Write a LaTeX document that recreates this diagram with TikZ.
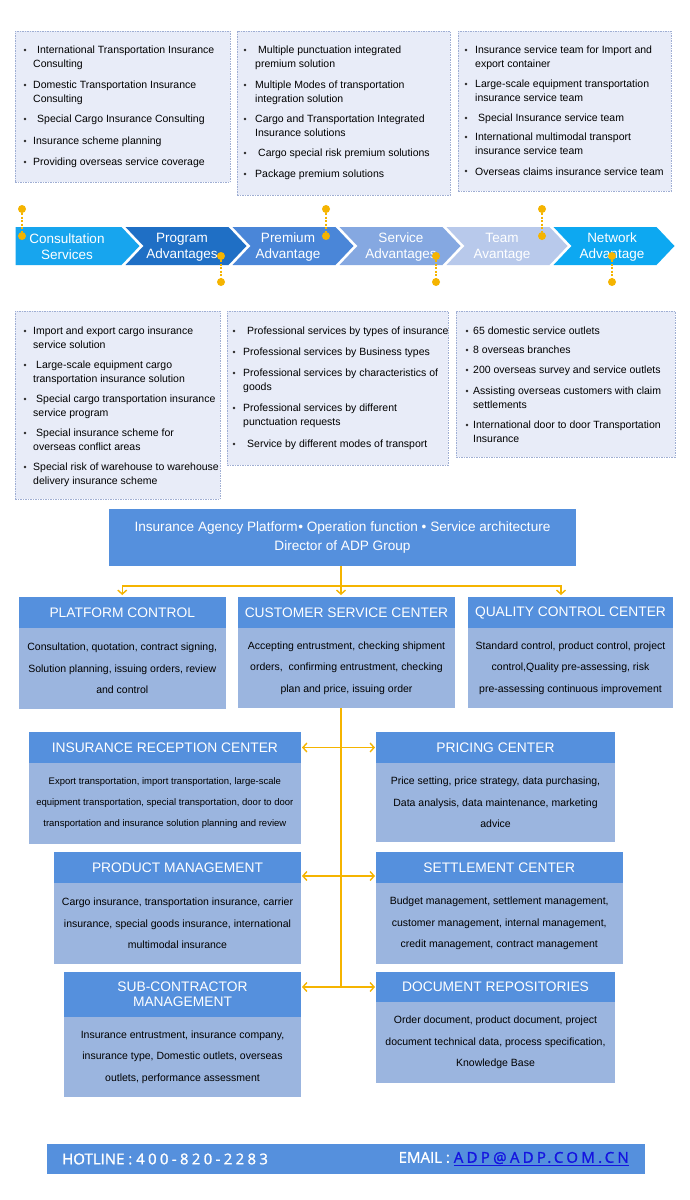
\documentclass[tikz,border=0pt]{standalone}
\usepackage{fontspec}
\setmainfont{Liberation Sans}
\newfontfamily\footfont[FakeBold=1.2]{Open Sans}
\usetikzlibrary{arrows.meta}

\definecolor{boxfill}{HTML}{E8ECF8}
\definecolor{boxline}{HTML}{9FAED3}
\definecolor{chA}{HTML}{17A5EE}
\definecolor{chB}{HTML}{1F6FC5}
\definecolor{chC}{HTML}{4A86D8}
\definecolor{chD}{HTML}{85A8E1}
\definecolor{chE}{HTML}{B8C9EB}
\definecolor{chF}{HTML}{0DA8F1}
\definecolor{gold}{HTML}{F5B400}
\definecolor{hdr}{HTML}{5590DD}
\definecolor{bdy}{HTML}{9BB5DF}
\definecolor{mail}{HTML}{1414E0}

\newcount\lnc
\newcommand\Ln[3]{\global\advance\lnc by 1\relax\node[lnsty] (ln\the\lnc) at (#1,#2+3.8) {#3};}
\newcommand\Bu[2]{\global\advance\lnc by 1\relax\node[bul] (bu\the\lnc) at (#1,#2) {};}

\tikzset{
  lnsty/.style={anchor=base west, inner sep=0, font=\fontsize{10.5}{12}\selectfont},
  bul/.style={circle, fill=black!85, inner sep=0, minimum size=2.6pt},
  lbox/.style={draw=boxline, fill=boxfill, dashed, dash pattern=on 1.5pt off 1pt, line width=0.6pt, anchor=north west, inner sep=0},
  chtxt/.style={text=white, align=center, inner sep=0, font=\fontsize{13.5}{16}\selectfont},
  gdot/.style={circle, fill=gold, inner sep=0, minimum size=8pt},
  gdash/.style={draw=gold, line width=1.4pt, dash pattern=on 2pt off 1.5pt},
  hd/.style={fill=hdr, text=white, inner sep=0, outer sep=0, minimum height=31pt, align=center, font=\fontsize{13.8}{16}\selectfont},
  bd/.style={fill=bdy, text=black, inner sep=0, outer sep=0, align=center, font=\fontsize{10.5}{21.5}\selectfont},
  conn/.style={draw=gold, line width=1.4pt},
  tip/.style={-{Straight Barb[length=4pt,width=9pt]}, shorten >=2pt},
  dtip/.style={{Straight Barb[length=4pt,width=9pt]}-{Straight Barb[length=4pt,width=9pt]}, shorten >=1pt, shorten <=1pt},
  foottxt/.style={inner sep=0, text=white, font=\footfont\fontsize{15}{17}\selectfont},
}

\begin{document}
\begin{tikzpicture}[x=1pt, y=-1pt]
\useasboundingbox (0,0) rectangle (690,1200);
\fill[white] (0,0) rectangle (690,1200);

% ---------- upper boxes ----------
\node[lbox, minimum width=215pt, minimum height=151pt] (B1) at (15,31) {};
\node[lbox, minimum width=213pt, minimum height=164pt] (B2) at (237,31) {};
\node[lbox, minimum width=213pt, minimum height=160pt] (B3) at (458,31) {};

\Bu{25}{50}\Ln{37}{50}{International Transportation Insurance}\Ln{33}{64}{Consulting}
\Bu{25}{85}\Ln{33}{85}{Domestic Transportation Insurance}\Ln{33}{99}{Consulting}
\Bu{25}{119}\Ln{37}{119}{Special Cargo Insurance Consulting}
\Bu{25}{141}\Ln{33}{141}{Insurance scheme planning}
\Bu{25}{162}\Ln{33}{162}{Providing overseas service coverage}

\Bu{245}{50}\Ln{258}{50}{Multiple punctuation integrated}\Ln{255}{64}{premium solution}
\Bu{245}{85}\Ln{255}{85}{Multiple Modes of transportation}\Ln{255}{99}{integration solution}
\Bu{245}{119}\Ln{255}{119}{Cargo and Transportation Integrated}\Ln{255}{133}{Insurance solutions}
\Bu{245}{153}\Ln{258}{153}{Cargo special risk premium solutions}
\Bu{245}{174}\Ln{255}{174}{Package premium solutions}

\Bu{466}{50}\Ln{475}{50}{Insurance service team for Import and}\Ln{475}{64}{export container}
\Bu{466}{84}\Ln{475}{84}{Large-scale equipment transportation}\Ln{475}{98}{insurance service team}
\Bu{466}{118}\Ln{478}{118}{Special Insurance service team}
\Bu{466}{137}\Ln{475}{137}{International multimodal transport}\Ln{475}{151}{insurance service team}
\Bu{466}{171}\Ln{475}{172}{Overseas claims insurance service team}

% ---------- chevrons ----------
\fill[chA] (15.7,227) -- (121.5,227) -- (139.5,246) -- (121.5,265) -- (15.7,265) -- cycle;
\fill[chB] (125.5,227) -- (228.5,227) -- (246.5,246) -- (228.5,265) -- (125.5,265) -- (143.5,246) -- cycle;
\fill[chC] (232.5,227) -- (335.5,227) -- (353.5,246) -- (335.5,265) -- (232.5,265) -- (250.5,246) -- cycle;
\fill[chD] (339.5,227) -- (442.5,227) -- (460.5,246) -- (442.5,265) -- (339.5,265) -- (357.5,246) -- cycle;
\fill[chE] (446.5,227) -- (549.5,227) -- (567.5,246) -- (549.5,265) -- (446.5,265) -- (464.5,246) -- cycle;
\fill[chF] (553.5,227) -- (656.5,227) -- (674.5,246) -- (656.5,265) -- (553.5,265) -- (571.5,246) -- cycle;

\node[chtxt] (c1) at (67,247) {Consultation\\Services};
\node[chtxt] (c2) at (182,247) {Program\\Advantages};
\node[chtxt] (c3) at (288,247) {Premium\\Advantage};
\node[chtxt] (c4) at (401,247) {Service\\Advantages};
\node[chtxt] (c5) at (502,247) {Team\\Avantage};
\node[chtxt] (c6) at (612,247) {Network\\Advantage};

\node[gdot] (d1a) at (22,209) {};  \node[gdot] (d1b) at (22,236) {};
\node[gdot] (d2a) at (221,256) {}; \node[gdot] (d2b) at (221,282) {};
\node[gdot] (d3a) at (326,209) {}; \node[gdot] (d3b) at (326,236) {};
\node[gdot] (d4a) at (436,256) {}; \node[gdot] (d4b) at (436,282) {};
\node[gdot] (d5a) at (542,209) {}; \node[gdot] (d5b) at (542,236) {};
\node[gdot] (d6a) at (612,256) {}; \node[gdot] (d6b) at (612,282) {};
\foreach \i in {1,...,6} {\draw[gdash] (d\i a) -- (d\i b);}

% ---------- lower boxes ----------
\node[lbox, minimum width=205pt, minimum height=188pt] (B4) at (15,311) {};
\node[lbox, minimum width=221pt, minimum height=154pt] (B5) at (227,311) {};
\node[lbox, minimum width=219pt, minimum height=146pt] (B6) at (456,311) {};

\Bu{25}{331}\Ln{33}{331}{Import and export cargo insurance}\Ln{33}{345}{service solution}
\Bu{25}{365}\Ln{36}{365}{Large-scale equipment cargo}\Ln{33}{379}{transportation insurance solution}
\Bu{25}{399}\Ln{36}{399}{Special cargo transportation insurance}\Ln{33}{413}{service program}
\Bu{25}{433}\Ln{36}{433}{Special insurance scheme for}\Ln{33}{447}{overseas conflict areas}
\Bu{25}{467}\Ln{33}{467}{Special risk of warehouse to warehouse}\Ln{33}{481}{delivery insurance scheme}

\Bu{234}{331}\Ln{247}{331}{Professional services by types of insurance}
\Bu{234}{352}\Ln{243}{352}{Professional services by Business types}
\Bu{234}{373}\Ln{243}{373}{Professional services by characteristics of}\Ln{243}{387}{goods}
\Bu{234}{408}\Ln{243}{408}{Professional services by different}\Ln{243}{422}{punctuation requests}
\Bu{234}{444}\Ln{247}{444}{Service by different modes of transport}

\Bu{467}{331}\Ln{473}{331}{65 domestic service outlets}
\Bu{467}{350}\Ln{473}{350}{8 overseas branches}
\Bu{467}{370}\Ln{473}{370}{200 overseas survey and service outlets}
\Bu{467}{391}\Ln{473}{391}{Assisting overseas customers with claim}\Ln{473}{405}{settlements}
\Bu{467}{425}\Ln{473}{425}{International door to door Transportation}\Ln{473}{439}{Insurance}

% ---------- organisation ----------
\node[fill=hdr, text=white, inner sep=0, outer sep=0, align=center, minimum width=467pt, minimum height=57pt,
      font=\fontsize{13.6}{19}\selectfont] (top) at (342.5,537.5)
  {Insurance Agency Platform\hspace{0.5pt}• Operation function • Service architecture\\Director of ADP Group};

\node[hd, minimum width=207.5pt] (pch) at (122.25,612.5) {PLATFORM CONTROL};
\node[bd, minimum width=207.5pt, minimum height=81pt, anchor=north] (pcb) at (pch.south)
  {Consultation, quotation, contract signing,\\Solution planning, issuing orders, review\\and control};
\node[hd, minimum width=217pt] (csh) at (346.5,612.5) {CUSTOMER SERVICE CENTER};
\node[bd, minimum width=217pt, minimum height=80pt, anchor=north] (csb) at (csh.south)
  {Accepting entrustment, checking shipment\\orders,\ \ confirming entrustment, checking\\plan and price, issuing order};
\node[hd, minimum width=205pt] (qch) at (570.5,612.5) {QUALITY CONTROL CENTER};
\node[bd, minimum width=205pt, minimum height=80pt, anchor=north] (qcb) at (qch.south)
  {Standard control, product control, project\\control,Quality pre-assessing, risk\\pre-assessing continuous improvement};

\node[hd, minimum width=272.3pt] (irh) at (164.85,747.5) {INSURANCE RECEPTION CENTER};
\node[bd, minimum width=272.3pt, minimum height=81pt, anchor=north, font=\fontsize{9.5}{21}\selectfont] (irb) at (irh.south)
  {Export transportation, import transportation, large-scale\\equipment transportation, special transportation, door to door\\transportation and insurance solution planning and review};
\node[hd, minimum width=239pt] (prh) at (495.5,747.5) {PRICING CENTER};
\node[bd, minimum width=239pt, minimum height=79pt, anchor=north] (prb) at (prh.south)
  {Price setting, price strategy, data purchasing,\\Data analysis, data maintenance, marketing\\advice};

\node[hd, minimum width=247pt] (pmh) at (177.5,867.5) {PRODUCT MANAGEMENT};
\node[bd, minimum width=247pt, minimum height=81pt, anchor=north] (pmb) at (pmh.south)
  {Cargo insurance, transportation insurance, carrier\\insurance, special goods insurance, international\\multimodal insurance};
\node[hd, minimum width=246.5pt] (sch) at (499.25,867.5) {SETTLEMENT CENTER};
\node[bd, minimum width=246.5pt, minimum height=81pt, anchor=north] (scb) at (sch.south)
  {Budget management, settlement management,\\customer management, internal management,\\credit management, contract management};

\node[hd, minimum width=237pt, minimum height=45pt, font=\fontsize{13.8}{15}\selectfont] (sbh) at (182.5,994.5) {SUB-CONTRACTOR\\MANAGEMENT};
\node[bd, minimum width=237pt, minimum height=80pt, anchor=north] (sbb) at (sbh.south)
  {Insurance entrustment, insurance company,\\insurance type, Domestic outlets, overseas\\outlets, performance assessment};
\node[hd, minimum width=239pt, minimum height=30pt] (drh) at (495.5,987) {DOCUMENT REPOSITORIES};
\node[bd, minimum width=239pt, minimum height=81pt, anchor=north] (drb) at (drh.south)
  {Order document, product document, project\\document technical data, process specification,\\Knowledge Base};

% connectors
\coordinate (jn) at (341,586);
\coordinate (vend) at (341,988);
\draw[conn, tip] (top.south -| jn) -- (csh.north -| jn);
\draw[conn, tip] (top.south -| jn) -- (jn) -| (pch.north);
\draw[conn, tip] (top.south -| jn) -- (jn) -| ([xshift=-9.5pt]qch.north);
\draw[conn] (csb.south -| jn) -- (vend);
\draw[conn, dtip] (irh.east) -- (prh.west);
\draw[conn, dtip] ([yshift=-8.5pt]pmh.east) -- ([yshift=-8.5pt]sch.west);
\draw[conn, dtip] (sbh.east |- drh.west) -- (drh.west);

% ---------- footer ----------
\node[fill=hdr, inner sep=0, minimum width=598pt, minimum height=30pt] (ft) at (346,1159) {};
\node[foottxt, anchor=west] (hot) at (62,1159)
  {HOTLINE : {\addfontfeatures{LetterSpace=22}400-820-2283}};
\node[foottxt, anchor=east] (em) at (629,1159)
  {EMAIL : \textcolor{mail}{\underline{\addfontfeatures{LetterSpace=22}ADP@ADP.COM.CN}}};
\end{tikzpicture}
\end{document}
